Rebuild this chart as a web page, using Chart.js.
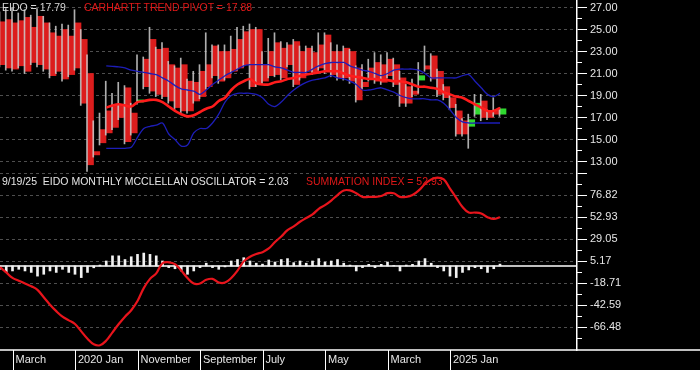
<!DOCTYPE html>
<html><head><meta charset="utf-8">
<script src="https://cdn.jsdelivr.net/npm/chart.js@4/dist/chart.umd.min.js"></script>
<style>
html,body{margin:0;padding:0;background:#000;}
#wrap{position:relative;width:700px;height:370px;background:#000;overflow:hidden;font-family:"Liberation Sans",Arial,sans-serif;}
canvas{position:absolute;left:0;}
#c1{top:0;} #c2{top:172px;}
.t{position:absolute;font-size:10.5px;white-space:pre;line-height:12px;}
</style></head><body>
<div id="wrap">
<canvas id="c1" width="700" height="172" style="width:700px;height:172px"></canvas>
<canvas id="c2" width="700" height="198" style="width:700px;height:198px"></canvas>
<div class="t" style="left:2px;top:1px;color:#d8d8d8">EIDO = 17.79</div>
<div class="t" style="left:84px;top:1px;color:#e01818">CARHARTT TREND PIVOT = 17.88</div>
<div class="t" style="left:2px;top:175px;color:#e4e4e4">9/19/25  EIDO MONTHLY MCCLELLAN OSCILLATOR = 2.03</div>
<div class="t" style="left:306px;top:175px;color:#e01818">SUMMATION INDEX = 52.93</div>
</div>
<script>
// Month index 0 = Jan 2019 ... 80 = Sep 2025
const xTickMonths = [2, 12, 22, 32, 42, 52, 62, 72];
const xTickLabels = ['March', '2020 Jan', 'November', 'September', 'July', 'May', 'March', '2025 Jan'];

const open  = [25.7,25.9,25.6,25.8,26.1,25.2,26.2,25.6,24.7,24.4,25.0,24.4,25.6,24.1,21.0,13.9,15.9,17.6,18.2,18.2,
               19.7,17.4,18.4,22.3,24.1,23.2,23.3,21.8,21.5,21.8,20.3,20.2,21.2,21.8,23.5,23.0,23.0,23.2,24.1,24.8,
               25.0,25.0,21.8,23.0,23.8,23.3,23.6,23.9,23.0,23.3,22.9,23.6,24.5,23.0,23.0,23.3,23.0,21.5,20.2,21.5,
               22.0,21.8,22.3,21.8,20.6,19.8,19.4,20.4,21.7,22.6,21.2,19.8,18.8,17.6,16.7,16.2,17.3,18.5,17.5,17.7,17.3];
const close = [21.8,21.5,21.4,21.7,21.2,22.0,21.8,21.4,20.8,21.2,20.5,20.9,21.5,18.3,12.7,13.6,14.7,15.6,16.1,17.0,
               14.8,15.6,18.6,19.8,19.4,19.1,18.9,18.5,17.9,17.6,17.6,18.5,18.9,19.8,20.8,20.3,20.6,21.2,21.5,21.8,
               19.8,20.0,20.3,20.8,20.9,20.6,21.8,20.0,20.6,21.2,21.1,21.5,21.2,20.9,20.6,20.6,20.3,18.6,19.8,20.5,
               20.3,20.2,20.8,20.0,18.3,18.3,19.1,20.8,21.4,20.5,19.1,18.8,17.9,15.5,15.5,16.8,18.3,17.0,17.0,17.3,17.79];
const high  = [26.6,26.9,27.0,26.5,26.8,26.3,26.9,26.2,25.6,25.3,25.5,25.4,26.8,25.0,22.7,16.7,17.4,20.3,19.2,20.2,
               19.9,18.3,22.7,22.5,25.2,23.4,23.8,22.1,21.7,22.4,20.5,21.2,21.8,24.7,23.6,23.6,23.6,24.4,25.2,25.3,
               25.5,25.2,23.0,24.2,24.7,23.9,23.8,24.1,23.5,23.5,23.5,24.7,24.7,23.8,23.6,23.5,23.2,21.7,21.8,22.3,
               22.9,22.7,22.9,22.4,21.2,20.0,20.5,22.0,23.5,22.8,21.4,20.0,19.1,18.2,16.9,17.3,19.1,19.1,17.7,18.8,17.9];
const low   = [21.6,21.3,21.2,21.5,21.0,21.8,21.6,21.2,20.6,21.0,20.3,20.7,21.3,18.1,12.1,13.4,14.5,15.4,15.9,16.8,
               14.6,15.4,18.2,19.6,19.2,18.9,18.7,18.3,17.7,17.4,17.4,18.3,18.7,19.6,20.6,20.1,20.4,21.0,21.3,21.6,
               19.6,19.8,20.1,20.6,20.7,20.4,21.6,19.8,20.4,21.0,20.9,21.3,21.0,20.7,20.4,20.4,20.1,18.4,19.6,20.3,
               20.1,20.0,20.6,19.8,18.0,18.0,18.9,19.2,21.2,20.3,18.9,18.6,17.7,15.3,15.3,14.2,17.1,16.7,16.8,17.1,17.1];

const pivot = [null,null,null,null,null,null,null,null,null,null,null,null,null,null,null,null,null,
               17.9,18.1,18.2,18.1,18.0,18.4,18.5,18.6,18.6,18.4,18.0,17.6,17.3,17.1,
               17.2,17.5,17.8,18.0,18.5,18.8,19.5,20.0,20.3,20.5,
               20.1,20.0,20.0,20.2,20.3,20.5,20.6,20.8,20.9,21.0,
               21.1,21.2,21.2,21.2,21.0,20.8,20.7,20.6,20.5,20.5,
               20.4,20.4,20.3,20.3,20.2,20.0,19.8,19.8,19.7,19.6,
               19.3,19.1,18.9,18.8,18.5,18.2,17.9,17.6,17.6,17.88];
const upperBand = [null,null,null,null,null,null,null,null,null,null,null,null,null,null,null,null,null,
               21.7,21.65,21.6,21.5,21.3,21.2,21.1,21.0,20.9,20.6,20.3,19.9,19.6,19.5,
               19.4,19.1,19.5,20.0,20.4,20.8,21.1,21.4,21.7,21.8,
               21.8,21.8,21.8,21.6,21.5,21.3,21.1,21.1,21.1,21.4,
               21.7,21.9,22.0,22.0,22.0,21.7,21.5,21.3,21.2,21.0,
               20.8,21.0,21.3,21.4,21.4,21.4,21.3,21.0,20.6,20.6,
               20.6,20.6,20.6,20.8,20.9,20.3,19.7,19.1,18.9,19.2];
const lowerBand = [null,null,null,null,null,null,null,null,null,null,null,null,null,null,null,null,null,
               14.2,14.2,14.2,14.2,14.3,15.2,16.0,16.2,16.3,16.5,15.5,15.0,14.4,14.5,
               15.6,16.0,16.0,16.5,17.3,18.4,19.0,19.2,19.2,19.2,
               19.1,18.8,18.2,18.0,18.4,19.0,19.5,19.9,20.2,20.4,
               20.5,20.6,20.8,20.6,20.5,20.3,20.0,19.5,19.5,19.6,
               19.7,19.5,19.3,19.0,18.8,18.7,18.7,18.7,18.6,18.6,
               18.3,17.7,17.0,16.6,16.5,16.5,16.5,16.5,16.5,16.5];

const oscillator = [-3.6,-7,-5.4,-3.6,-5.4,-7,-11,-9,-5.4,-7,-3.6,-7,-9,-12.6,-7,
                    -2,1,
                    5.4,11,11,7,10,12.6,14,12.6,11,
                    5.4,
                    -1.8,-3,-5.4,-9,-5.4,-1.8,3,-1.8,-3.6,-1,5.4,7,
                    9,5.4,3,2,6.5,4.3,7,8,3.6,5.4,3,5.4,8,4.3,5.4,7,3,1,
                    -5.4,-1.8,1.8,-1.8,1.8,4.3,0.5,-5.4,1,1.8,5.4,8,3,
                    -1.8,-5.4,-11,-12.6,-7,-4.3,-1.8,-3,-7,-3,2.03];
const summation = [-1.3,-7,-13,-16,-19,-22,-26,-34,-42,-49,
                   -55,-59,-63,-71,-79,-85,-86,-81,-72,-63,
                   -55,-48,-38,-24,-14,-8,3,4,2,-5,
                   -13,-19,-19,-15,-14,-18,-18,-13,-5,5,
                   10,13,15,19,26,32,39,43,48,52,
                   56,62,66,71,77,82,82,79,75,75,
                   75,76,79,79,75,75,77,82,89,94,
                   96,94,84,74,64,58,58,57,53,51,52.93];

const priceTicks = [13, 15, 17, 19, 21, 23, 25, 27];
const priceMinor = [12, 14, 16, 18, 20, 22, 24, 26];
const oscTicks = [100.70, 76.82, 52.93, 29.05, 5.17, -18.71, -42.59, -66.48];
const oscTickLabels = ['', '76.82', '52.93', '29.05', '5.17', '-18.71', '-42.59', '-66.48'];
const oscMinor = [88.76, 64.88, 40.99, 17.11, -6.77, -30.65, -54.54, -78.42];

const FONT = {family: '"Liberation Sans", Arial, sans-serif', size: 11};
const AXIS_W = 123;
const X_MAX = 92.32;
const RED = '#dc1d1d', GREEN = '#2fd92f', BLUE = '#1d1db8';

const idx = open.map((_, i) => i);
const bodies = idx.map(i => ({x: i, y: [Math.min(open[i], close[i]), Math.max(open[i], close[i])]}));
const wicks = idx.map(i => ({x: i, y: [low[i], high[i]]}));
const bodyColors = idx.map(i => close[i] > open[i] ? GREEN : RED);
const seriesPts = arr => arr.map((v, i) => v === null ? null : {x: i, y: v}).filter(p => p);

function yAxis(min, max, ticks, labelFn) {
  return {
    position: 'right', min, max,
    afterBuildTicks: s => { s.ticks = ticks.map(v => ({value: v})); },
    afterFit: s => { s.width = AXIS_W; s.paddingTop = 0; s.paddingBottom = 0; },
    ticks: {color: '#e6e6e6', font: FONT, padding: 3, autoSkip: false, callback: labelFn},
    grid: {color: '#4e4e4e', tickColor: '#ffffff', tickLength: 10, lineWidth: 1, tickWidth: 1},
    border: {display: true, color: '#ffffff', width: 1.5, dash: [3, 3]}
  };
}

function minorTicks(chart, values) {
  const s = chart.scales.y, ctx = chart.ctx;
  ctx.save();
  ctx.strokeStyle = '#ffffff'; ctx.lineWidth = 1;
  values.forEach(v => {
    const y = Math.round(s.getPixelForValue(v)) + 0.5;
    ctx.beginPath(); ctx.moveTo(s.left, y); ctx.lineTo(s.left + 5, y); ctx.stroke();
  });
  ctx.restore();
}

const baseOpts = {
  responsive: false, animation: false, devicePixelRatio: 1, events: [],
  layout: {padding: 0},
  plugins: {legend: {display: false}, tooltip: {enabled: false}}
};

new Chart(document.getElementById('c1'), {
  type: 'bar',
  data: {datasets: [
    {type: 'line', data: seriesPts(pivot), borderColor: '#ff1c1c', borderWidth: 2.6, pointRadius: 0, tension: 0.3, order: 0},
    {type: 'line', data: seriesPts(upperBand), borderColor: BLUE, borderWidth: 1.3, pointRadius: 0, tension: 0.3, order: 1},
    {type: 'line', data: seriesPts(lowerBand), borderColor: BLUE, borderWidth: 1.3, pointRadius: 0, tension: 0.3, order: 1},
    {type: 'bar', data: wicks, backgroundColor: 'rgba(205,205,205,0.85)', barThickness: 1, borderWidth: 0, order: 2},
    {type: 'bar', data: bodies, backgroundColor: bodyColors, barThickness: 6, borderWidth: 0, order: 3}
  ]},
  options: Object.assign({}, baseOpts, {
    scales: {
      x: {type: 'linear', min: 0, max: X_MAX, offset: false, display: false, grid: {offset: false}},
      y: yAxis(12.045, 27.68, priceTicks, v => v.toFixed(2))
    }
  }),
  plugins: [{id: 'minor1', afterDraw: c => minorTicks(c, priceMinor)}]
});

new Chart(document.getElementById('c2'), {
  type: 'bar',
  data: {datasets: [
    {type: 'line', data: seriesPts(summation), borderColor: '#e8141c', borderWidth: 2.2, pointRadius: 0, tension: 0.4, order: 0},
    {type: 'bar', data: seriesPts(oscillator), backgroundColor: '#f2f2f2', barThickness: 2, borderWidth: 0, order: 1}
  ]},
  options: Object.assign({}, baseOpts, {
    scales: {
      x: {
        type: 'linear', min: 0, max: X_MAX, offset: false, position: 'bottom',
        afterBuildTicks: s => { s.ticks = xTickMonths.map(v => ({value: v})); },
        afterFit: s => { s.height = 20; s.paddingLeft = 0; s.paddingRight = 0; },
        ticks: {color: '#e6e6e6', font: FONT, align: 'start', labelOffset: 3, padding: 3,
                maxRotation: 0, minRotation: 0, autoSkip: false, callback: (v, i) => xTickLabels[i]},
        grid: {display: false, drawTicks: false, tickLength: 0, offset: false},
        border: {display: false}
      },
      y: yAxis(-91.2, 102.0, oscTicks, (v, i) => oscTickLabels[i])
    }
  }),
  plugins: [{
    id: 'lower',
    beforeDatasetsDraw: c => {
      const ctx = c.ctx, a = c.chartArea, y0 = c.scales.y.getPixelForValue(0);
      ctx.save(); ctx.strokeStyle = '#ffffff'; ctx.lineWidth = 1.5;
      ctx.beginPath(); ctx.moveTo(a.left, y0); ctx.lineTo(a.right, y0); ctx.stroke(); ctx.restore();
    },
    afterDraw: c => {
      minorTicks(c, oscMinor);
      const ctx = c.ctx, a = c.chartArea, xs = c.scales.x;
      ctx.save(); ctx.strokeStyle = '#ffffff'; ctx.lineWidth = 1.5;
      ctx.beginPath(); ctx.moveTo(0, a.bottom); ctx.lineTo(c.width, a.bottom); ctx.stroke();
      ctx.lineWidth = 1;
      xTickMonths.forEach(m => {
        const x = Math.round(xs.getPixelForValue(m)) + 0.5;
        ctx.beginPath(); ctx.moveTo(x, a.bottom); ctx.lineTo(x, c.height); ctx.stroke();
      });
      ctx.restore();
    }
  }]
});
</script>
</body></html>
